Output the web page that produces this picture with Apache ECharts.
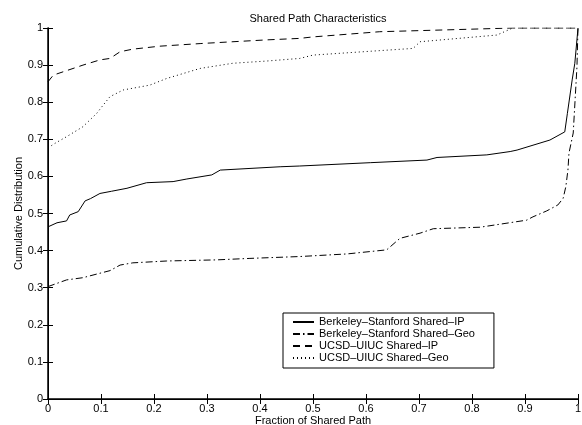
<!DOCTYPE html>
<html>
<head>
<meta charset="utf-8">
<script src="https://cdn.jsdelivr.net/npm/echarts@6/dist/echarts.min.js"></script>
<style>
  html, body { margin: 0; padding: 0; background: #fff; }
  #chart { width: 582px; height: 425px; }
</style>
</head>
<body>
<div id="chart"></div>
<script>
// Shared path CDFs
const seriesNames = [
    'Berkeley–Stanford Shared–IP',
    'Berkeley–Stanford Shared–Geo',
    'UCSD–UIUC Shared–IP',
    'UCSD–UIUC Shared–Geo'
];

const bsIpX = [0, 0.017, 0.035, 0.041, 0.057, 0.07, 0.08, 0.098, 0.12, 0.149, 0.186, 0.236, 0.262, 0.309, 0.325, 0.438, 0.475, 0.608, 0.715, 0.734, 0.828, 0.872, 0.885, 0.947, 0.975, 0.98, 0.989, 0.994, 1];
const bsIpY = [0.464, 0.475, 0.48, 0.496, 0.505, 0.534, 0.54, 0.554, 0.56, 0.568, 0.583, 0.586, 0.593, 0.604, 0.617, 0.626, 0.628, 0.637, 0.644, 0.651, 0.658, 0.667, 0.671, 0.698, 0.72, 0.77, 0.86, 0.905, 1];

const bsGeoX = [0, 0.035, 0.066, 0.098, 0.117, 0.136, 0.16, 0.224, 0.318, 0.381, 0.475, 0.564, 0.639, 0.664, 0.702, 0.727, 0.815, 0.866, 0.903, 0.915, 0.941, 0.962, 0.972, 0.977, 0.981, 0.983, 0.991, 0.998, 1];
const bsGeoY = [0.303, 0.321, 0.327, 0.339, 0.346, 0.361, 0.367, 0.372, 0.375, 0.379, 0.384, 0.391, 0.402, 0.433, 0.447, 0.459, 0.463, 0.474, 0.482, 0.491, 0.507, 0.523, 0.541, 0.572, 0.617, 0.663, 0.717, 0.895, 1];

const ucIpX = [0, 0.01, 0.035, 0.066, 0.098, 0.117, 0.136, 0.16, 0.211, 0.287, 0.349, 0.413, 0.475, 0.5, 0.626, 0.753, 0.877, 1];
const ucIpY = [0.855, 0.873, 0.885, 0.9, 0.914, 0.918, 0.936, 0.943, 0.951, 0.958, 0.963, 0.968, 0.972, 0.976, 0.99, 0.995, 1, 1];

const ucGeoX = [0, 0.013, 0.035, 0.066, 0.092, 0.104, 0.117, 0.142, 0.192, 0.224, 0.287, 0.349, 0.413, 0.475, 0.5, 0.689, 0.702, 0.847, 0.877, 1];
const ucGeoY = [0.677, 0.689, 0.707, 0.734, 0.77, 0.792, 0.815, 0.833, 0.846, 0.864, 0.891, 0.905, 0.911, 0.918, 0.927, 0.945, 0.963, 0.981, 1, 1];

const font = 'Liberation Sans, Arial, Helvetica, sans-serif';

const zip = (xs, ys) => xs.map((x, i) => [x, ys[i]]);

const lineSeries = (name, xs, ys, type) => ({
    name: name,
    type: 'line',
    data: zip(xs, ys),
    symbol: 'none',
    xAxisIndex: 0,
    yAxisIndex: 0,
    lineStyle: { color: '#000', width: 1, type: type },
    itemStyle: { color: '#000' }
});

const tickOnly = (pos) => ({
    type: 'value',
    position: pos,
    min: 0,
    max: 1,
    interval: 0.1,
    axisLine: { show: true, lineStyle: { color: '#000', width: 1 } },
    axisTick: { show: true, inside: true, length: 5, lineStyle: { color: '#000' } },
    axisLabel: { show: false },
    splitLine: { show: false }
});

const chart = echarts.init(document.getElementById('chart'));

chart.setOption({
    animation: false,
    backgroundColor: '#fff',
    title: {
        text: 'Shared Path Characteristics',
        left: 313,
        top: 8,
        textAlign: 'center',
        textStyle: { fontFamily: font, fontSize: 11, fontWeight: 'normal', color: '#000' }
    },
    grid: { left: 48, right: 4, top: 28, bottom: 26, outerBoundsMode: 'none', containLabel: false },
    legend: {
        orient: 'vertical',
        left: 283,
        top: 313,
        padding: [3, 19, 4, 9],
        itemWidth: 21,
        itemHeight: 12,
        itemGap: 0,
        itemTextGap: 10,
        borderColor: '#000',
        borderWidth: 1,
        backgroundColor: '#fff',
        itemStyle: { opacity: 0 },
        textStyle: { fontFamily: font, fontSize: 11, color: '#000', lineHeight: 12 },
        data: seriesNames
    },
    xAxis: [{
        type: 'value',
        position: 'bottom',
        min: 0,
        max: 1,
        interval: 0.1,
        name: 'Fraction of Shared Path',
        nameLocation: 'middle',
        nameGap: 16,
        nameMoveOverlap: false,
        nameTextStyle: { fontFamily: font, fontSize: 11, color: '#000' },
        axisLine: { show: true, lineStyle: { color: '#000', width: 1.5 } },
        axisTick: { show: true, inside: true, length: 5, lineStyle: { color: '#000' } },
        axisLabel: { fontFamily: font, fontSize: 11, color: '#000', margin: 4 },
        splitLine: { show: false }
    }, Object.assign(tickOnly('top'), { gridIndex: 0 })],
    yAxis: [{
        type: 'value',
        position: 'left',
        min: 0,
        max: 1,
        interval: 0.1,
        name: 'Cumulative Distribution',
        nameLocation: 'middle',
        nameGap: 24,
        nameMoveOverlap: false,
        nameTextStyle: { fontFamily: font, fontSize: 11, color: '#000' },
        axisLine: { show: true, lineStyle: { color: '#000', width: 1.5 } },
        axisTick: { show: true, inside: true, length: 5, lineStyle: { color: '#000' } },
        axisLabel: { fontFamily: font, fontSize: 11, color: '#000', margin: 5 },
        splitLine: { show: false }
    }, Object.assign(tickOnly('right'), { gridIndex: 0 })],
    series: [
        lineSeries(seriesNames[0], bsIpX, bsIpY, 'solid'),
        lineSeries(seriesNames[1], bsGeoX, bsGeoY, [7, 3, 1.5, 3]),
        lineSeries(seriesNames[2], ucIpX, ucIpY, [7, 5]),
        lineSeries(seriesNames[3], ucGeoX, ucGeoY, [1, 3])
    ]
});
</script>
</body>
</html>
